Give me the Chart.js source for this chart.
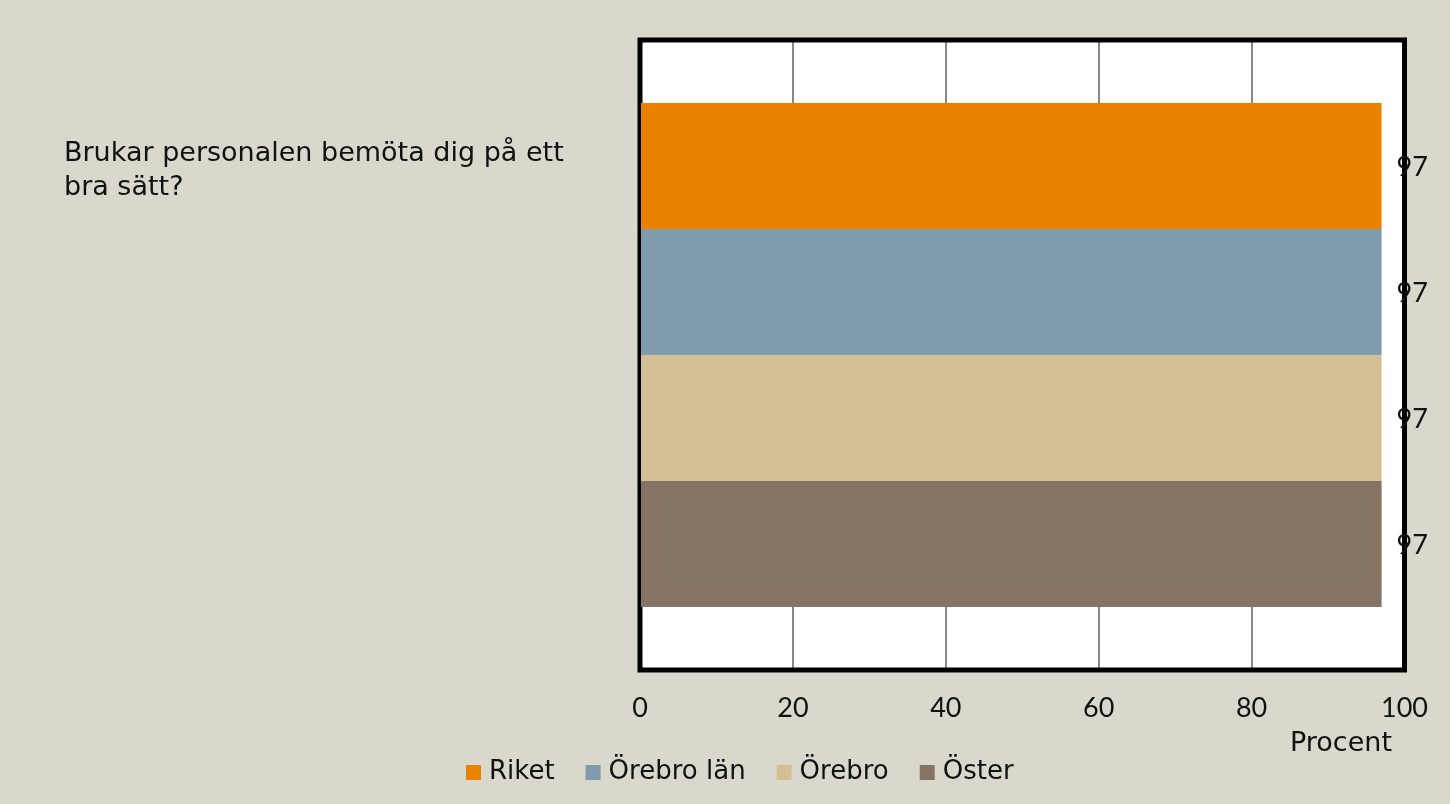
<!DOCTYPE html>
<html>
<head>
<meta charset="utf-8">
<script src="https://cdn.jsdelivr.net/npm/chart.js@4"></script>
<style>
  html, body { margin: 0; padding: 0; background: #dad8cc; }
  #wrap { width: 1450px; height: 804px; }
</style>
</head>
<body>
<div id="wrap"><canvas id="chart" width="1450" height="804"></canvas></div>
<script>
// data
const categories = ["Brukar personalen bemöta dig på ett bra sätt?"];
const seriesNames = ["Riket", "Örebro län", "Örebro", "Öster"];
const seriesValues = [[97], [97], [97], [97]];
const seriesColors = ["#ea8200", "#7f9bad", "#d4bf95", "#857464"];
const xTicks = [0, 20, 40, 60, 80, 100];
const axisTitle = "Procent";

const NUM_FONT = "Lato";
const TXT_FONT = "'DejaVu Sans'";

// white plot area, thick black frame, value labels, question text, legend
const decor = {
  id: "decor",
  beforeDraw(chart) {
    const { ctx, chartArea: a } = chart;
    ctx.save();
    ctx.fillStyle = "#dad8cc";
    ctx.fillRect(0, 0, chart.width, chart.height);
    ctx.fillStyle = "#fff";
    ctx.fillRect(a.left, a.top, a.right - a.left, a.bottom - a.top);
    ctx.restore();
  },
  beforeDatasetsDraw(chart) {
    const { ctx, chartArea: a } = chart;
    ctx.save();
    ctx.strokeStyle = "#000";
    ctx.lineWidth = 5;
    ctx.strokeRect(a.left, a.top, a.right - a.left, a.bottom - a.top);
    ctx.restore();
  },
  afterDraw(chart) {
    const { ctx } = chart;
    ctx.save();
    ctx.fillStyle = "#111";
    ctx.textAlign = "left";
    // value labels
    ctx.font = "27px " + NUM_FONT;
    ctx.textBaseline = "middle";
    chart.data.datasets.forEach((ds, i) => {
      const el = chart.getDatasetMeta(i).data[0];
      ctx.fillText(String(ds.data[0]), el.x + 15, el.y + 1);
    });
    // question text (category label)
    ctx.font = "27px " + TXT_FONT;
    ctx.textBaseline = "alphabetic";
    ctx.fillText("Brukar personalen bemöta dig på ett", 64, 161);
    ctx.fillText("bra sätt?", 64, 195);
    // axis title
    ctx.textAlign = "right";
    ctx.textBaseline = "middle";
    ctx.fillText(axisTitle, 1392, 744);
    // legend
    ctx.textAlign = "left";
    ctx.font = "26px " + TXT_FONT;
    let x = 466;
    const y = 772;
    chart.data.datasets.forEach(ds => {
      ctx.fillStyle = ds.backgroundColor;
      ctx.fillRect(x, y - 7, 15, 15);
      ctx.fillStyle = "#111";
      ctx.fillText(ds.label, x + 23, y);
      x += 23 + ctx.measureText(ds.label).width + 31;
    });
    ctx.restore();
  }
};

new Chart(document.getElementById("chart"), {
  type: "bar",
  data: {
    labels: categories,
    datasets: seriesNames.map((name, i) => ({
      label: name,
      data: seriesValues[i],
      backgroundColor: seriesColors[i],
      categoryPercentage: 0.8,
      barPercentage: 1.0
    }))
  },
  options: {
    indexAxis: "y",
    responsive: false,
    animation: false,
    layout: { padding: { left: 0, top: 40, right: 39, bottom: 0 } },
    plugins: {
      legend: { display: false },
      tooltip: { enabled: false }
    },
    scales: {
      x: {
        min: 0,
        max: 100,
        afterBuildTicks(scale) { scale.ticks = xTicks.map(v => ({ value: v })); },
        afterFit(scale) { scale.height = 134; },
        grid: { color: "#888", lineWidth: 2, drawTicks: false },
        border: { display: false },
        ticks: { color: "#111", font: { family: NUM_FONT, size: 27 }, padding: 22 }
      },
      y: {
        afterFit(scale) { scale.width = 640; },
        grid: { display: false },
        border: { display: false },
        ticks: { display: false }
      }
    }
  },
  plugins: [decor]
});
</script>
</body>
</html>
